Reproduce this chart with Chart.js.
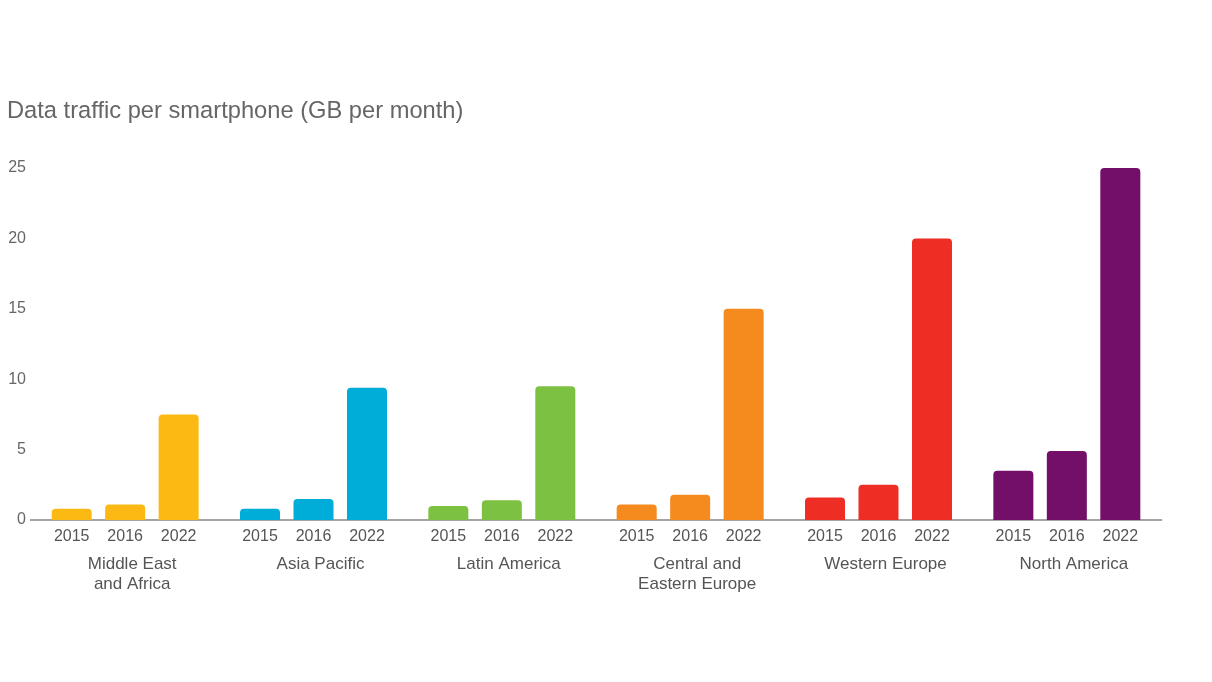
<!DOCTYPE html>
<html>
<head>
<meta charset="utf-8">
<script src="https://cdn.jsdelivr.net/npm/chart.js@4"></script>
<style>
  html, body { margin: 0; padding: 0; background: #fff; }
  #wrap { width: 1212px; height: 682px; }
</style>
</head>
<body>
<div id="wrap"><canvas id="trafficChart" width="1212" height="682"></canvas></div>
<script>
// regions along the x axis
const regions = [
  ['Middle East', 'and Africa'],
  'Asia Pacific',
  'Latin America',
  ['Central and', 'Eastern Europe'],
  'Western Europe',
  'North America'
];
const regionColors = ['#fdb913', '#00acd8', '#7dc142', '#f58a1f', '#ee2e24', '#730e69'];

// GB per month, one array per year
const years = ['2015', '2016', '2022'];
const values2015 = [0.8, 0.8, 1.0, 1.1, 1.6, 3.5];
const values2016 = [1.1, 1.5, 1.4, 1.8, 2.5, 4.9];
const values2022 = [7.5, 9.4, 9.5, 15, 20, 25];

const yTicks = [0, 5, 10, 15, 20, 25];

const fontFamily = '"Liberation Sans", Arial, Helvetica, sans-serif';

// writes the year under each bar, using the bar positions from the chart
const yearLabels = {
  id: 'yearLabels',
  afterDatasetsDraw(chart) {
    const ctx = chart.ctx;
    const xScale = chart.scales.x;
    ctx.save();
    ctx.font = '16px ' + fontFamily;
    ctx.fillStyle = '#555';
    ctx.textAlign = 'center';
    ctx.textBaseline = 'middle';
    chart.data.datasets.forEach((ds, i) => {
      chart.getDatasetMeta(i).data.forEach(bar => {
        ctx.fillText(ds.label, bar.x, xScale.top + 17);
      });
    });
    ctx.restore();
  }
};

new Chart(document.getElementById('trafficChart').getContext('2d'), {
  type: 'bar',
  data: {
    labels: regions,
    datasets: [
      { label: years[0], data: values2015, backgroundColor: regionColors },
      { label: years[1], data: values2016, backgroundColor: regionColors },
      { label: years[2], data: values2022, backgroundColor: regionColors }
    ]
  },
  options: {
    responsive: false,
    animation: false,
    layout: { padding: { left: 7, right: 51, top: 96, bottom: 62 } },
    datasets: {
      bar: {
        categoryPercentage: 0.852,
        barPercentage: 0.748,
        borderRadius: 4,
        borderSkipped: 'start'
      }
    },
    plugins: {
      legend: { display: false },
      tooltip: { enabled: false },
      title: {
        display: true,
        text: 'Data traffic per smartphone (GB per month)',
        align: 'start',
        color: '#666',
        font: { family: fontFamily, size: 23.7, weight: 'normal' },
        padding: { top: 0.8, bottom: 42.8 }
      }
    },
    scales: {
      x: {
        grid: { display: false, drawTicks: false },
        border: { display: true, color: '#a3a3a3', width: 2 },
        ticks: {
          color: '#555',
          font: { family: fontFamily, size: 17, lineHeight: 1.18 },
          padding: 34,
          labelOffset: 7,
          maxRotation: 0,
          autoSkip: false
        },
        afterFit(scale) { scale.height = 100; }
      },
      y: {
        min: 0,
        max: 25,
        grid: { display: false, drawTicks: false },
        border: { display: false },
        afterBuildTicks(scale) { scale.ticks = yTicks.map(v => ({ value: v })); },
        ticks: {
          color: '#666',
          font: { family: fontFamily, size: 16 },
          padding: 5
        },
        afterFit(scale) { scale.width = 24; }
      }
    }
  },
  plugins: [yearLabels]
});
</script>
</body>
</html>
